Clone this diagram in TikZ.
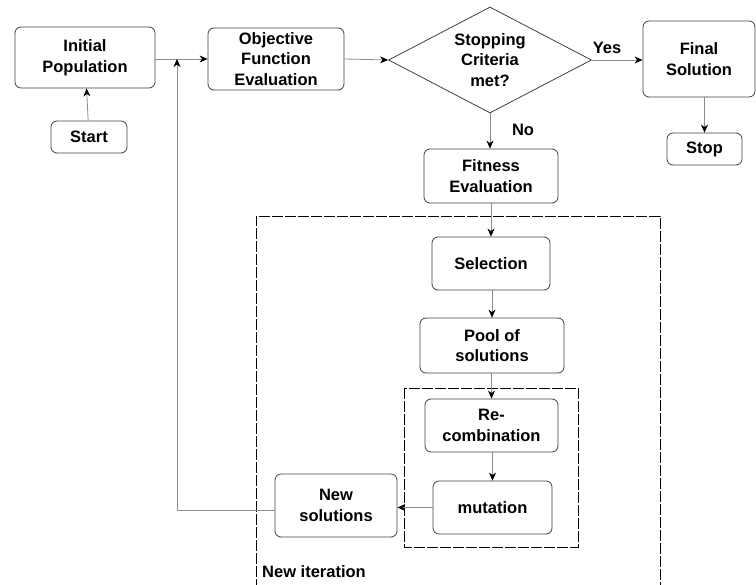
\documentclass[tikz,border=0pt]{standalone}
\usepackage{fontspec}
\setmainfont{Liberation Sans}
\usetikzlibrary{arrows.meta,shapes.geometric}
\begin{document}
\begin{tikzpicture}[x=1pt,y=-1pt,
  font=\bfseries\fontsize{16.5}{20.5}\selectfont,
  box/.style={draw=black!75, line width=0.8pt, rounded corners=6pt, align=center, inner sep=0pt},
  conn/.style={draw=black!45, line width=0.8pt, arrows={-{Stealth[length=8pt,width=7pt,inset=2.5pt,color=black]}}},
  plain/.style={draw=black!45, line width=0.8pt},
  dbox/.style={draw=black, line width=0.8pt, dash pattern=on 11pt off 2pt}]
\useasboundingbox (0,0) rectangle (756,585);
% dashed frames
\draw[dbox] (256,590) -- (256,216) -- (660,216) -- (660,590);
\draw[dbox] (404,388) rectangle (578,547);
% nodes
\node[box, minimum width=140pt, minimum height=61pt] (ip) at (85,57.5) {Initial\\Population};
\node[box, minimum width=76pt, minimum height=32pt] (start) at (89,137) {Start};
\node[box, minimum width=136pt, minimum height=62pt] (ofe) at (276,59) {Objective\\Function\\Evaluation};
\node[draw=black!75, line width=0.8pt, shape=diamond, aspect=2, inner sep=0pt, minimum width=203pt, minimum height=106pt, align=center] (dec) at (490,60) {Stopping\\Criteria\\met?};
\node[box, minimum width=112pt, minimum height=76pt] (fin) at (699,59) {Final\\Solution};
\node[box, minimum width=75pt, minimum height=32pt] (stop) at (704.5,149) {Stop};
\node[box, minimum width=134pt, minimum height=54pt] (fit) at (491,176) {Fitness\\Evaluation};
\node[box, minimum width=118pt, minimum height=53pt] (sel) at (491,263.5) {Selection};
\node[box, minimum width=144pt, minimum height=55pt] (pool) at (492,345.5) {Pool of\\solutions};
\node[box, minimum width=133pt, minimum height=53pt] (rec) at (491.5,425.5) {Re-\\combination};
\node[box, minimum width=119pt, minimum height=53pt] (mut) at (492.5,507.5) {mutation};
\node[box, minimum width=122pt, minimum height=63pt] (ns) at (336,505.5) {New\\solutions};
\node[anchor=west, inner sep=0pt] (iter) at (262,572) {New iteration};
\node[inner sep=0pt] (yes) at (607,48) {Yes};
\node[inner sep=0pt] (no) at (523,130) {No};
\coordinate (j) at (177,59);
\coordinate (c) at (177,510);
% connectors
\draw[conn] (start) -- (ip);
\draw[conn] (ip.east |- j) -- (ofe.west |- j);
\draw[conn] (ofe.east) -- (dec.west);
\draw[conn] (dec.east) -- (fin.west |- dec.east);
\draw[conn] (fin.south -| stop.north) -- (stop.north);
\draw[conn] (dec.south) -- (fit.north -| dec.south);
\draw[conn] (fit.south -| sel.north) -- (sel.north);
\draw[conn] (sel.south -| pool.north) -- (pool.north);
\draw[conn] (pool.south -| rec.north) -- (rec.north);
\draw[conn] (rec.south -| mut.north) -- (mut.north);
\draw[conn] (mut.west) -- (ns.east |- mut.west);
\draw[plain] (ns.west |- c) -- (c);
\draw[conn] (c) -- (j);
\end{tikzpicture}
\end{document}
